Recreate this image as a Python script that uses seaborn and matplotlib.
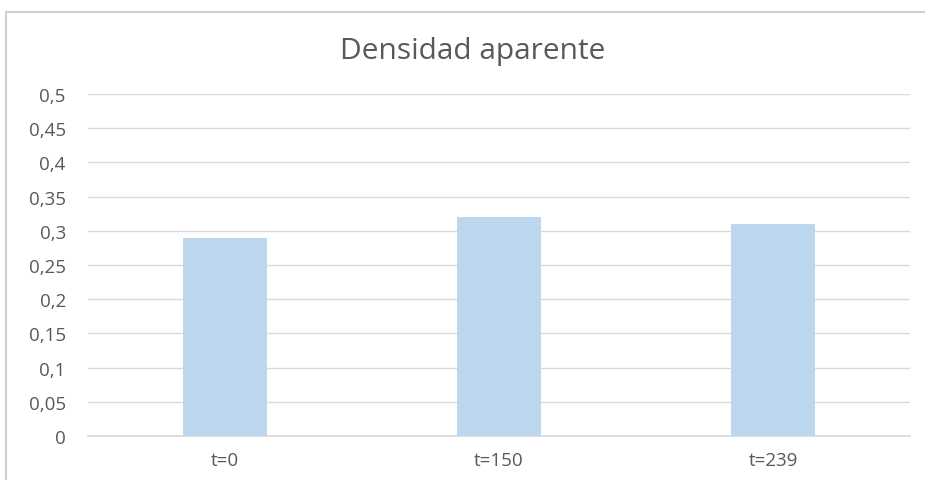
import matplotlib
matplotlib.use("Agg")
import matplotlib.pyplot as plt
import matplotlib.patches as mpatches
import seaborn as sns
import pandas as pd
import numpy as np

categories = ["t=0", "t=150", "t=239"]
densidad = [0.29, 0.32, 0.31]
yticks = [0, 0.05, 0.1, 0.15, 0.2, 0.25, 0.3, 0.35, 0.4, 0.45, 0.5]

df = pd.DataFrame({"tiempo": categories, "densidad": densidad})

sns.set_theme(style="white")
plt.rcParams["font.family"] = ["Open Sans", "DejaVu Sans"]

text_color = "#595959"
grid_color = "#D9D9D9"

fig = plt.figure(figsize=(9.25, 4.81), dpi=100)
ax = fig.add_axes([88 / 925, 1 - 437 / 481, 822 / 925, 342 / 481])

sns.barplot(data=df, x="tiempo", y="densidad", color="#BDD7EE", saturation=1,
            width=0.31, linewidth=0, ax=ax, zorder=3)

ax.set_ylim(0, 0.5)
ax.set_yticks(yticks)
ax.set_yticklabels([f"{v:g}".replace(".", ",") for v in yticks])
ax.grid(axis="y", color=grid_color, linewidth=1, zorder=0)
ax.set_axisbelow(True)
for s in ["top", "right", "left"]:
    ax.spines[s].set_visible(False)
ax.spines["bottom"].set_color(grid_color)
ax.tick_params(axis="y", length=0, pad=16, labelsize=13.5, labelcolor=text_color)
ax.tick_params(axis="x", length=0, pad=11, labelsize=13.5, labelcolor=text_color)
ax.set_xlabel("")
ax.set_ylabel("")

fig.text(473 / 925, 1 - 51 / 481, "Densidad aparente", ha="center", va="center",
         fontsize=21.5, color=text_color)

# chart area border
fig.patches.append(mpatches.Rectangle((5.5 / 925, -0.1), 1.2, 1 - 12.5 / 481 + 0.1,
                                      transform=fig.transFigure, fill=False,
                                      edgecolor="#D0D0D0", linewidth=1.5))

fig.savefig("out.png", dpi=100)
